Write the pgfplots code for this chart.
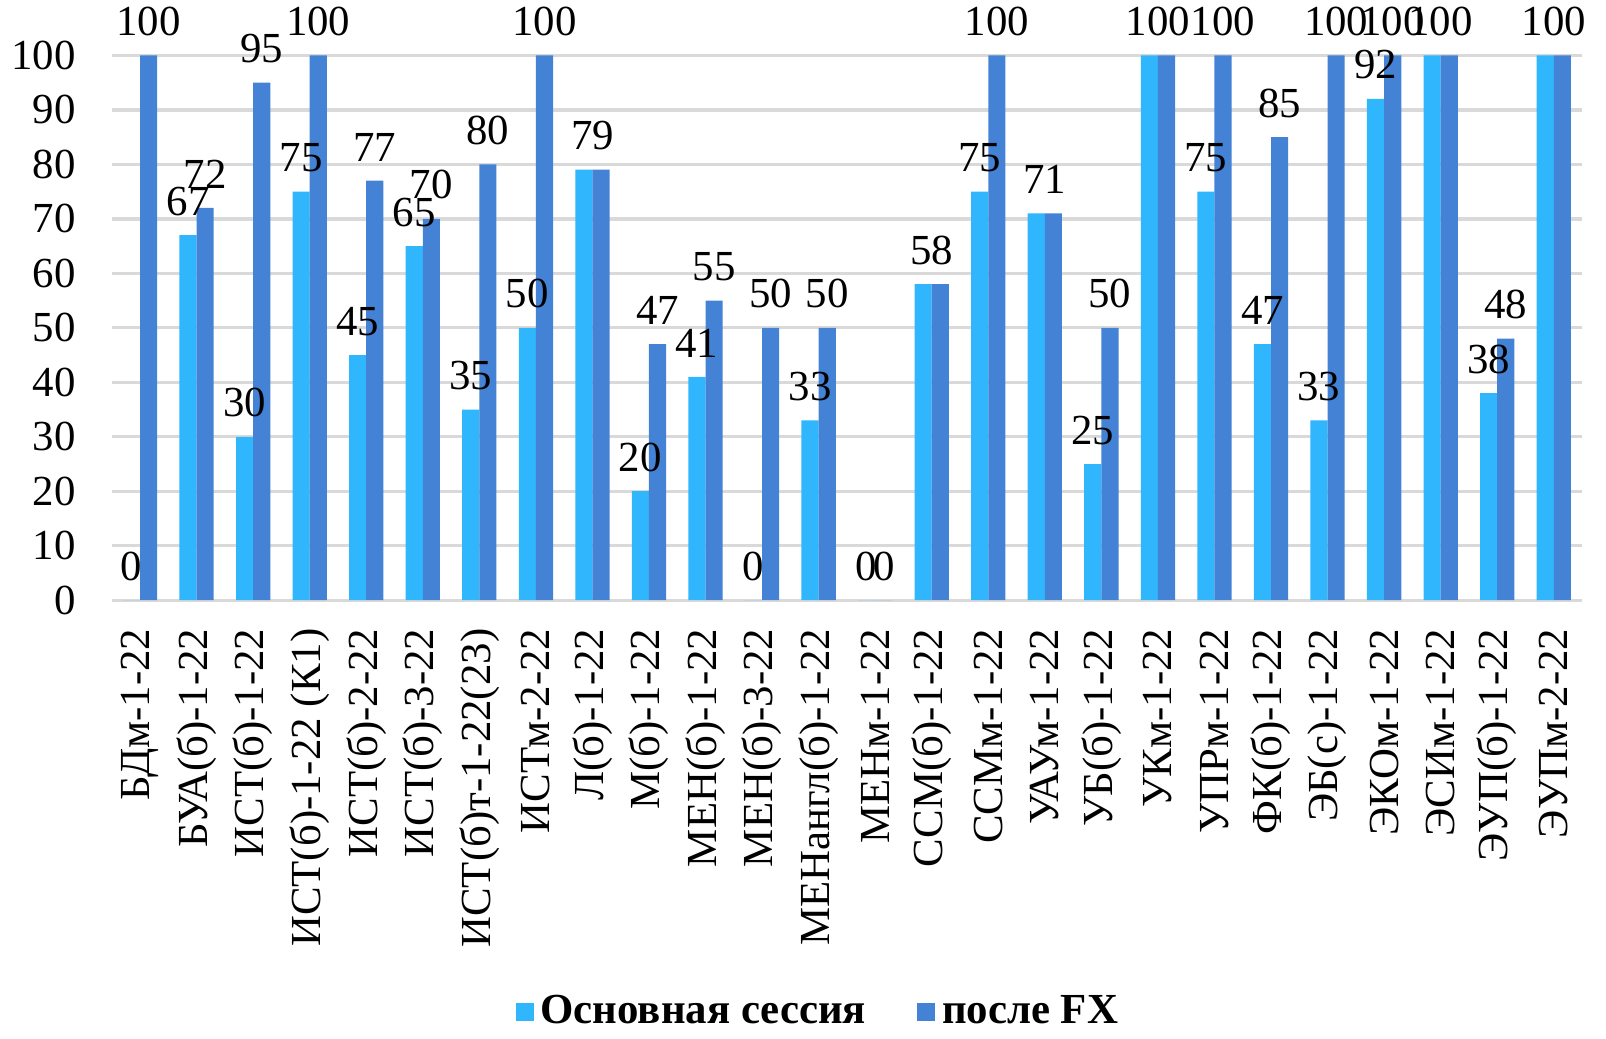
\documentclass[border=0pt]{standalone}
\usepackage{fontspec}
\setmainfont{Liberation Serif}
\usepackage{pgfplots}
\usepackage{pgfplotstable}
\pgfplotsset{compat=1.18}
\definecolor{osn}{HTML}{30B6FC}
\definecolor{fx}{HTML}{4382D4}
\definecolor{gridgray}{HTML}{D9D9D9}

% x, основная сессия, после FX, подписи (пусто там, где значения совпадают)
\pgfplotstableread{
x light dark ll dl
0  0   100 0   100
1  67  72  67  72
2  30  95  30  95
3  75  100 75  100
4  45  77  45  77
5  65  70  65  70
6  35  80  35  80
7  50  100 50  100
8  79  79  {} {}
9  20  47  20  47
10 41  55  41  55
11 0   50  0   50
12 33  50  33  50
13 0   0   0   0
14 58  58  {} {}
15 75  100 75  100
16 71  71  {} {}
17 25  50  25  50
18 100 100 {} {}
19 75  100 75  100
20 47  85  47  85
21 33  100 33  100
22 92  100 92  100
23 100 100 {} {}
24 38  48  38  48
25 100 100 {} {}
}\sessions

% одинаковые пары: одна подпись по центру
\pgfplotstableread{
x val
8  79
14 58
16 71
18 100
23 100
25 100
}\same

\begin{document}
\begin{tikzpicture}
\begin{axis}[
    width=429pt, height=159pt, scale only axis,
    xmin=-0.5, xmax=25.5, ymin=0, ymax=100,
    ytick={0,10,...,100},
    ymajorgrids, grid style={gridgray, line width=1pt},
    axis line style={draw=none}, major tick style={draw=none},
    /pgf/number format/assume math mode=true,
    ticklabel style={font=\fontsize{12.5}{14}\selectfont},
    yticklabel style={xshift=-7pt},
    xtick={0,...,25},
    xticklabels={БДм-1-22,БУА(б)-1-22,ИСТ(б)-1-22,ИСТ(б)-1-22 (К1),ИСТ(б)-2-22,
        ИСТ(б)-3-22,ИСТ(б)т-1-22(23),ИСТм-2-22,Л(б)-1-22,М(б)-1-22,МЕН(б)-1-22,
        МЕН(б)-3-22,МЕНангл(б)-1-22,МЕНм-1-22,ССМ(б)-1-22,ССМм-1-22,УАУм-1-22,
        УБ(б)-1-22,УКм-1-22,УПРм-1-22,ФК(б)-1-22,ЭБ(с)-1-22,ЭКОм-1-22,ЭСИм-1-22,
        ЭУП(б)-1-22,ЭУПм-2-22},
    x tick label style={rotate=90, anchor=east},
    xticklabel shift=0.5pt,
    ybar=0pt, bar width=5pt,
    every node near coord/.append style={font=\fontsize{12.5}{14}\selectfont, black,
        inner sep=2pt, yshift=3.5pt},
    legend style={draw=none, fill=none, at={(0.482,-0.755)}, anchor=center,
        inner sep=1pt, legend columns=2, font=\bfseries\fontsize{12.5}{14}\selectfont,
        /tikz/every even column/.append style={column sep=13pt}},
    legend image code/.code={\fill[#1] (0pt,-2.6pt) rectangle (5.2pt,2.6pt);},
    clip=false
]
\addplot[fill=osn, draw=none, bar shift=-2.5pt, nodes near coords,
    point meta=explicit symbolic] table[x=x, y=light, meta=ll] {\sessions};
\addlegendentry{Основная сессия}
\addplot[fill=fx, draw=none, bar shift=2.5pt, nodes near coords,
    point meta=explicit symbolic] table[x=x, y=dark, meta=dl] {\sessions};
\addlegendentry{после FX}
\addplot[draw=none, fill=none, bar shift=0pt, nodes near coords,
    point meta=explicit symbolic, forget plot] table[x=x, y=val, meta=val] {\same};
\end{axis}
\path ([xshift=7pt]current axis.east);
\end{tikzpicture}
\end{document}
